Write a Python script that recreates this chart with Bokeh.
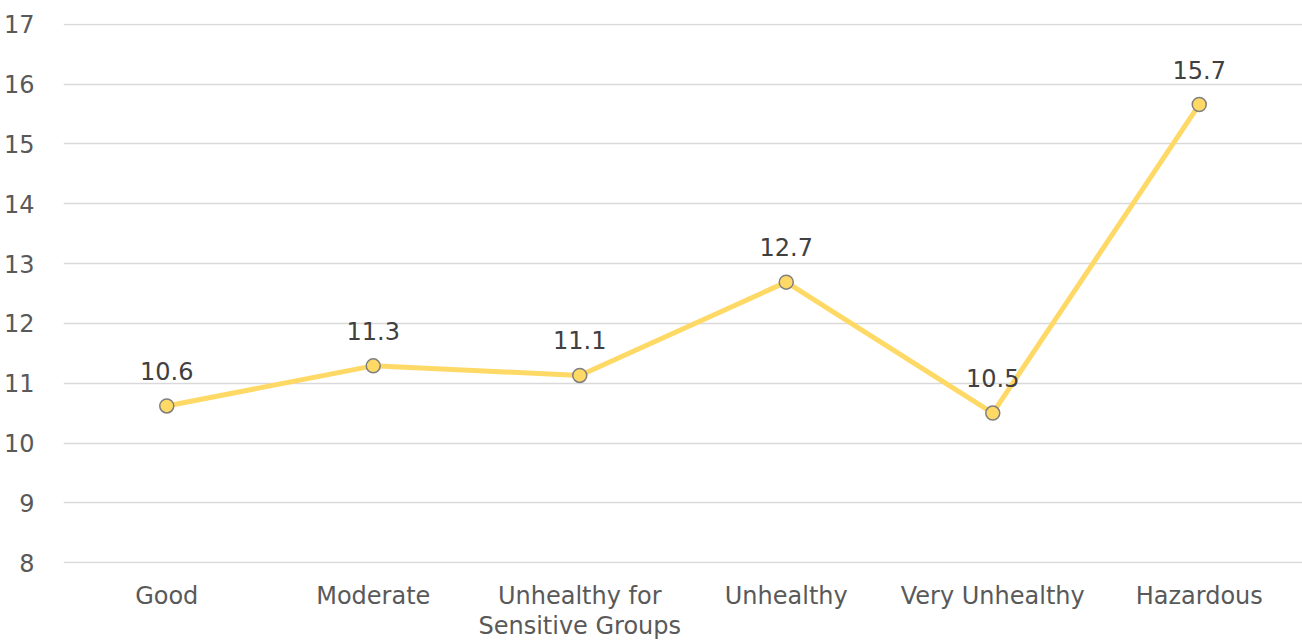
from bokeh.plotting import figure
from bokeh.models import ColumnDataSource, FixedTicker, Range1d, LabelSet
from bokeh.core.properties import value
from bokeh.embed import file_html
from bokeh.resources import INLINE

categories = ["Good", "Moderate", "Unhealthy for\nSensitive Groups", "Unhealthy", "Very Unhealthy", "Hazardous"]
values = [10.62, 11.29, 11.13, 12.69, 10.50, 15.66]
value_labels = ["10.6", "11.3", "11.1", "12.7", "10.5", "15.7"]
y_ticks = [8, 9, 10, 11, 12, 13, 14, 15, 16, 17]

xs = list(range(len(categories)))
src = ColumnDataSource(dict(x=xs, y=values, lab=value_labels))

FONT = "DejaVu Sans"
p = figure(width=1302, height=644, output_backend="svg", toolbar_location=None,
           x_range=Range1d(-0.5, 5.5), y_range=Range1d(7.985, 17.015),
           min_border_left=63, min_border_right=0, min_border_top=23, min_border_bottom=81)
p.outline_line_color = None
p.background_fill_color = "white"
p.border_fill_color = "white"

p.line("x", "y", source=src, line_color="#FFD966", line_width=5)
p.scatter("x", "y", source=src, size=14, fill_color="#FFD966", line_color="#7F7F7F", line_width=1.5)

labels = LabelSet(x="x", y="y", text="lab", source=src, text_align="center", text_baseline="middle",
                  y_offset=35, text_font=value(FONT), text_font_size=value("24px"), text_color="#404040")
p.add_layout(labels)

p.xaxis.ticker = FixedTicker(ticks=xs)
p.xaxis.major_label_overrides = {i: c for i, c in enumerate(categories)}
p.yaxis.ticker = FixedTicker(ticks=y_ticks)
for ax in (p.xaxis[0], p.yaxis[0]):
    ax.axis_line_color = None
    ax.major_tick_line_color = None
    ax.minor_tick_line_color = None
    ax.major_label_text_font = FONT
    ax.major_label_text_font_size = "24px"
    ax.major_label_text_color = "#595959"
p.yaxis.major_label_standoff = 23
p.xaxis.major_label_standoff = 12
p.xaxis.major_label_text_line_height = 1.1

p.xgrid.grid_line_color = None
p.ygrid.grid_line_color = "#D9D9D9"
p.ygrid.grid_line_width = 1.5

open("out.html", "w").write(file_html(p, INLINE))
